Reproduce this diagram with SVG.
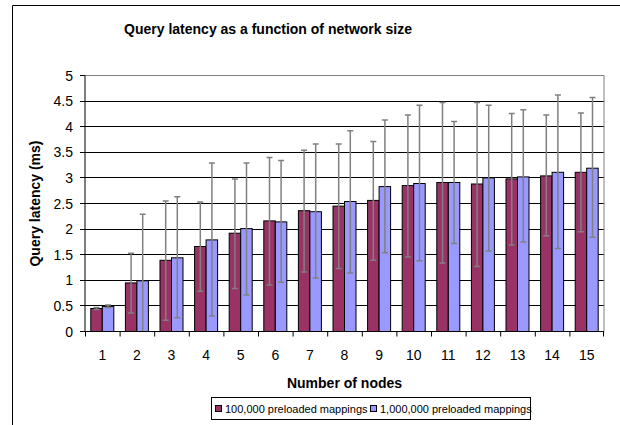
<svg xmlns="http://www.w3.org/2000/svg" width="620" height="425" viewBox="0 0 620 425">
<style>
text{font-family:"Liberation Sans",Arial,sans-serif;fill:#000}
.t{font-size:14px;font-weight:bold}
.ax{font-size:14px}
.yl{text-anchor:end}
.xl{text-anchor:middle}
.grid{stroke:#000;stroke-width:1}
.r{fill:#993366;stroke:#000;stroke-width:1}
.b{fill:#9999FF;stroke:#000;stroke-width:1}
.e{fill:none;stroke:#808080;stroke-width:1.5}
.lg{font-size:11px}
</style>
<rect width="620" height="425" fill="#fff"/>
<path d="M12.5,430 V5.5 H625" fill="none" stroke="#000" stroke-width="1"/>
<text id="title" class="t" x="268" y="34" text-anchor="middle">Query latency as a function of network size</text>
<g id="gridlines">
<path class="grid" d="M85,101.5H604M85,126.5H604M85,152.5H604M85,177.5H604M85,203.5H604M85,229.5H604M85,254.5H604M85,280.5H604M85,305.5H604"/>
<path d="M85,75.5H604V331.5" fill="none" stroke="#808080" stroke-width="1"/>
</g>
<g id="bars-100k">
<rect class="r" x="90.8" y="308.5" width="11.5" height="23"/>
<rect class="r" x="125.4" y="282.9" width="11.5" height="48.6"/>
<rect class="r" x="160" y="260.3" width="11.5" height="71.2"/>
<rect class="r" x="194.6" y="246.5" width="11.5" height="85"/>
<rect class="r" x="229.2" y="233.2" width="11.5" height="98.3"/>
<rect class="r" x="263.8" y="220.9" width="11.5" height="110.6"/>
<rect class="r" x="298.4" y="210.7" width="11.5" height="120.8"/>
<rect class="r" x="333" y="206.1" width="11.5" height="125.4"/>
<rect class="r" x="367.6" y="200.4" width="11.5" height="131.1"/>
<rect class="r" x="402.2" y="185.6" width="11.5" height="145.9"/>
<rect class="r" x="436.8" y="182.5" width="11.5" height="149"/>
<rect class="r" x="471.4" y="184" width="11.5" height="147.5"/>
<rect class="r" x="506" y="178.9" width="11.5" height="152.6"/>
<rect class="r" x="540.6" y="175.9" width="11.5" height="155.6"/>
<rect class="r" x="575.2" y="172.3" width="11.5" height="159.2"/>
</g>
<g id="bars-1m">
<rect class="b" x="102.3" y="306.4" width="11.5" height="25.1"/>
<rect class="b" x="136.9" y="280.8" width="11.5" height="50.7"/>
<rect class="b" x="171.5" y="257.8" width="11.5" height="73.7"/>
<rect class="b" x="206.1" y="239.9" width="11.5" height="91.6"/>
<rect class="b" x="240.7" y="228.6" width="11.5" height="102.9"/>
<rect class="b" x="275.3" y="221.9" width="11.5" height="109.6"/>
<rect class="b" x="309.9" y="211.7" width="11.5" height="119.8"/>
<rect class="b" x="344.5" y="201.5" width="11.5" height="130"/>
<rect class="b" x="379.1" y="186.6" width="11.5" height="144.9"/>
<rect class="b" x="413.7" y="183.5" width="11.5" height="148"/>
<rect class="b" x="448.3" y="182.5" width="11.5" height="149"/>
<rect class="b" x="482.9" y="177.9" width="11.5" height="153.6"/>
<rect class="b" x="517.5" y="176.9" width="11.5" height="154.6"/>
<rect class="b" x="552.1" y="172.3" width="11.5" height="159.2"/>
<rect class="b" x="586.7" y="168.2" width="11.5" height="163.3"/>
</g>
<g id="errorbars">
<path class="e" d="M96.5,309.5V307.4M93.5,309.5h6M93.5,307.4h6"/>
<path class="e" d="M131.1,313.1V253.2M128.1,313.1h6M128.1,253.2h6"/>
<path class="e" d="M165.7,320.2V200.9M162.7,320.2h6M162.7,200.9h6"/>
<path class="e" d="M200.3,291.3V202M197.3,291.3h6M197.3,202h6"/>
<path class="e" d="M234.9,288.5V178.9M231.9,288.5h6M231.9,178.9h6"/>
<path class="e" d="M269.5,284.9V157.4M266.5,284.9h6M266.5,157.4h6"/>
<path class="e" d="M304.1,272.1V150.3M301.1,272.1h6M301.1,150.3h6"/>
<path class="e" d="M338.7,268.5V144.1M335.7,268.5h6M335.7,144.1h6"/>
<path class="e" d="M373.3,260.3V141.5M370.3,260.3h6M370.3,141.5h6"/>
<path class="e" d="M407.9,257V114.9M404.9,257h6M404.9,114.9h6"/>
<path class="e" d="M442.5,262.9V102.6M439.5,262.9h6M439.5,102.6h6"/>
<path class="e" d="M477.1,266.5V102.6M474.1,266.5h6M474.1,102.6h6"/>
<path class="e" d="M511.7,245V113.4M508.7,245h6M508.7,113.4h6"/>
<path class="e" d="M546.3,235.8V114.9M543.3,235.8h6M543.3,114.9h6"/>
<path class="e" d="M580.9,231.7V112.9M577.9,231.7h6M577.9,112.9h6"/>
<path class="e" d="M108.1,307.4V304.9M105.1,307.4h6M105.1,304.9h6"/>
<path class="e" d="M142.7,331.5V214.3M139.7,214.3h6"/>
<path class="e" d="M177.3,317.7V196.8M174.3,317.7h6M174.3,196.8h6"/>
<path class="e" d="M211.9,316.1V163.1M208.9,316.1h6M208.9,163.1h6"/>
<path class="e" d="M246.5,295.1V163.1M243.5,295.1h6M243.5,163.1h6"/>
<path class="e" d="M281.1,282.3V160.5M278.1,282.3h6M278.1,160.5h6"/>
<path class="e" d="M315.7,278V144.1M312.7,278h6M312.7,144.1h6"/>
<path class="e" d="M350.3,273.1V130.8M347.3,273.1h6M347.3,130.8h6"/>
<path class="e" d="M384.9,252.7V120M381.9,252.7h6M381.9,120h6"/>
<path class="e" d="M419.5,260.8V105.2M416.5,260.8h6M416.5,105.2h6"/>
<path class="e" d="M454.1,243.4V121.6M451.1,243.4h6M451.1,121.6h6"/>
<path class="e" d="M488.7,251.1V105.2M485.7,251.1h6M485.7,105.2h6"/>
<path class="e" d="M523.3,241.9V109.8M520.3,241.9h6M520.3,109.8h6"/>
<path class="e" d="M557.9,248.6V95M554.9,248.6h6M554.9,95h6"/>
<path class="e" d="M592.5,237.3V97.5M589.5,237.3h6M589.5,97.5h6"/>
</g>
<g id="axes">
<path d="M85,75.5V331.5H604" fill="none" stroke="#000" stroke-width="1"/>
<path d="M80,75.5H85M80,101.5H85M80,126.5H85M80,152.5H85M80,177.5H85M80,203.5H85M80,229.5H85M80,254.5H85M80,280.5H85M80,305.5H85M80,331.5H85" stroke="#000" stroke-width="1"/>
<path d="M85.5,331.5v5M120.1,331.5v5M154.7,331.5v5M189.3,331.5v5M223.9,331.5v5M258.5,331.5v5M293.1,331.5v5M327.7,331.5v5M362.3,331.5v5M396.9,331.5v5M431.5,331.5v5M466.1,331.5v5M500.7,331.5v5M535.3,331.5v5M569.9,331.5v5M603.5,331.5v5" stroke="#000" stroke-width="1"/>
</g>
<g id="y-labels" class="ax yl">
<text x="73" y="80.5">5</text>
<text x="73" y="106.1">4.5</text>
<text x="73" y="131.7">4</text>
<text x="73" y="157.3">3.5</text>
<text x="73" y="182.9">3</text>
<text x="73" y="208.5">2.5</text>
<text x="73" y="234.1">2</text>
<text x="73" y="259.7">1.5</text>
<text x="73" y="285.3">1</text>
<text x="73" y="310.9">0.5</text>
<text x="73" y="336.5">0</text>
</g>
<g id="x-labels" class="ax xl">
<text x="102.3" y="360">1</text>
<text x="136.9" y="360">2</text>
<text x="171.5" y="360">3</text>
<text x="206.1" y="360">4</text>
<text x="240.7" y="360">5</text>
<text x="275.3" y="360">6</text>
<text x="309.9" y="360">7</text>
<text x="344.5" y="360">8</text>
<text x="379.1" y="360">9</text>
<text x="413.7" y="360">10</text>
<text x="448.3" y="360">11</text>
<text x="482.9" y="360">12</text>
<text x="517.5" y="360">13</text>
<text x="552.1" y="360">14</text>
<text x="586.7" y="360">15</text>
</g>
<text id="y-title" class="t" transform="translate(40,203.5) rotate(-90)" text-anchor="middle">Query latency (ms)</text>
<text id="x-title" class="t" x="344.5" y="387.5" text-anchor="middle">Number of nodes</text>
<g id="legend">
<rect x="211.5" y="397.5" width="319" height="22" fill="#fff" stroke="#000" stroke-width="1"/>
<rect class="r" x="215.5" y="405.5" width="6" height="6"/>
<text class="lg" x="225" y="412.5">100,000 preloaded mappings</text>
<rect class="b" x="370.5" y="405.5" width="6" height="6"/>
<text class="lg" x="380" y="412.5">1,000,000 preloaded mappings</text>
</g>
</svg>
